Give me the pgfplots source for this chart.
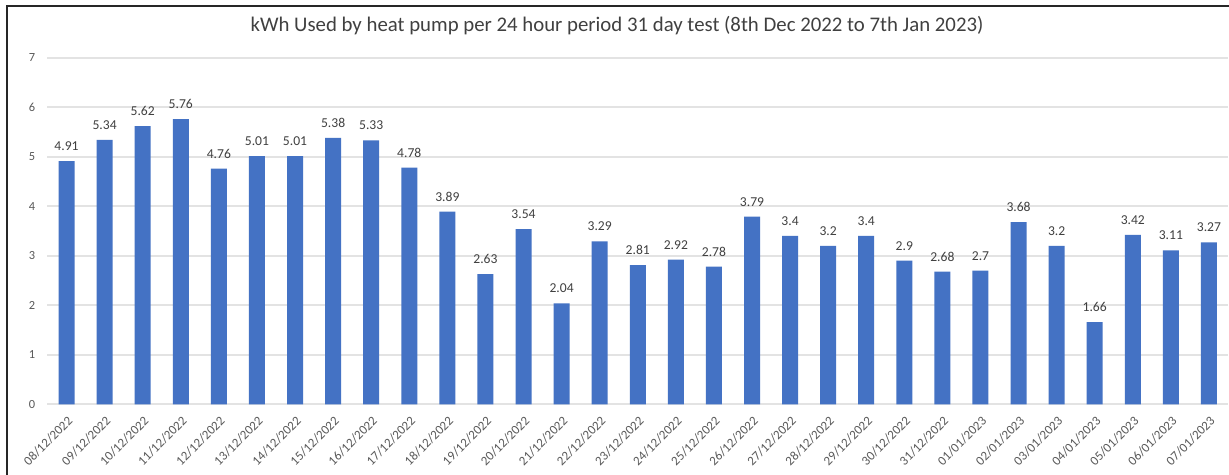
\documentclass[border=0pt]{standalone}
\usepackage{pgfplots}
\pgfplotsset{compat=1.18}
\usepackage{fontspec}
\setmainfont{Carlito}
\definecolor{barblue}{HTML}{4472C4}
\definecolor{gridgray}{HTML}{E3E3E3}
\definecolor{ticktext}{HTML}{595959}
\definecolor{valtext}{HTML}{404040}
\begin{document}
\begin{tikzpicture}
\useasboundingbox (0,0) rectangle (614.5pt,237.5pt);
\clip (0,0) rectangle (614.5pt,237.5pt);
\fill[white] (0,0) rectangle (614.5pt,237.5pt);
\begin{axis}[
  at={(23.75pt,35.35pt)}, anchor=south west,
  scale only axis, width=590.25pt, height=173.3pt,
  xmin=-0.5, xmax=30.5, ymin=0, ymax=7,
  ytick={0,1,...,7},
  xtick={0,1,...,30},
  xticklabels={08/12/2022,09/12/2022,10/12/2022,11/12/2022,12/12/2022,13/12/2022,14/12/2022,15/12/2022,16/12/2022,17/12/2022,18/12/2022,19/12/2022,20/12/2022,21/12/2022,22/12/2022,23/12/2022,24/12/2022,25/12/2022,26/12/2022,27/12/2022,28/12/2022,29/12/2022,30/12/2022,31/12/2022,01/01/2023,02/01/2023,03/01/2023,04/01/2023,05/01/2023,06/01/2023,07/01/2023},
  major tick length=0pt,
  axis line style={draw=none},
  ymajorgrids=true,
  major grid style={draw=gridgray, line width=0.8pt},
  /pgf/number format/assume math mode=true,
  yticklabel style={font=\fontsize{6.2pt}{7pt}\selectfont, text=ticktext, inner sep=0pt, xshift=-6pt},
  xticklabel style={font=\fontsize{6.5pt}{7pt}\selectfont, text=ticktext, rotate=45, anchor=east, inner sep=0pt, xshift=-3.6pt, yshift=-6.4pt},
  ybar, bar width=8pt,
  nodes near coords,
  every node near coord/.append style={font=\fontsize{6.8pt}{8pt}\selectfont, text=valtext, anchor=south, inner sep=0pt, yshift=5pt},
  clip=false,
]
\addplot[fill=barblue, draw=none, bar shift=0pt] coordinates {
(0,4.91) (1,5.34) (2,5.62) (3,5.76) (4,4.76) (5,5.01) (6,5.01) (7,5.38) (8,5.33) (9,4.78)
(10,3.89) (11,2.63) (12,3.54) (13,2.04) (14,3.29) (15,2.81) (16,2.92) (17,2.78) (18,3.79) (19,3.4)
(20,3.2) (21,3.4) (22,2.9) (23,2.68) (24,2.7) (25,3.68) (26,3.2) (27,1.66) (28,3.42) (29,3.11) (30,3.27)};
\end{axis}
\node[font=\fontsize{10.4pt}{12pt}\selectfont, text=valtext] at (308.5pt,224.5pt) {kWh Used by heat pump per 24 hour period 31 day test (8th Dec 2022 to 7th Jan 2023)};
\draw[line width=1.1pt, draw=black!85] (3.6pt,0) -- (3.6pt,234.5pt) -- (620pt,234.5pt);
\end{tikzpicture}
\end{document}
